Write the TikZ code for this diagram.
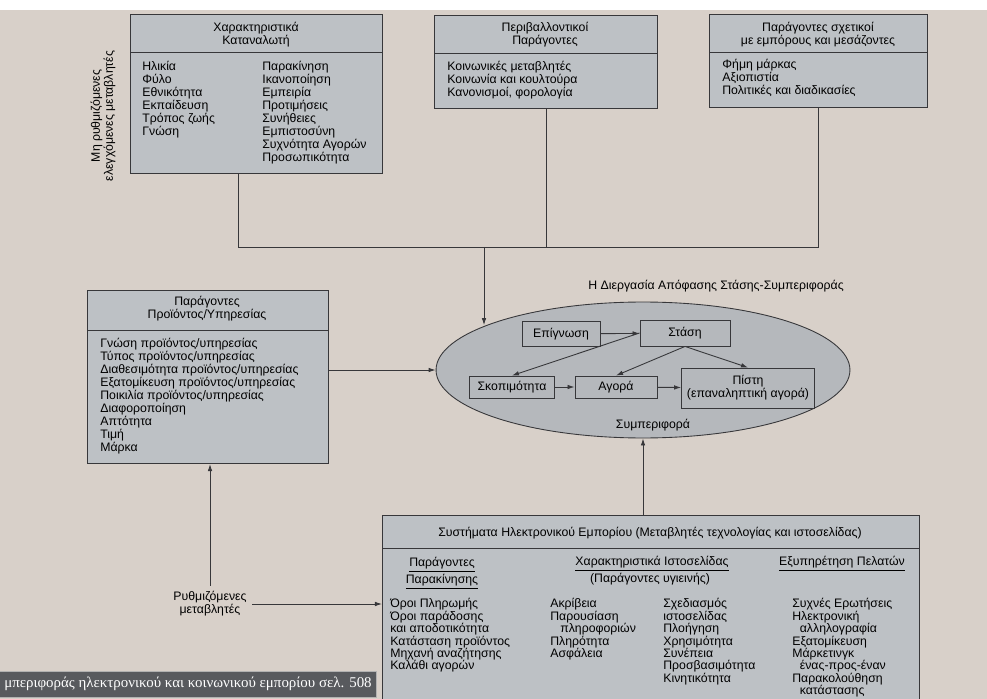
\documentclass[tikz,border=0pt]{standalone}
\usepackage{fontspec}
\setmainfont{Liberation Sans}
\newfontfamily\capfont{Liberation Serif}
\usepackage{tikz}
\usetikzlibrary{arrows.meta, shapes.geometric, positioning, calc}
\definecolor{pagebg}    {RGB}{216, 208, 201}
\definecolor{panelgray} {RGB}{189, 193, 197}
\definecolor{ovalgray}  {RGB}{181, 184, 188}
\definecolor{inkdark}   {RGB}{ 55,  55,  58}
\definecolor{capgray}   {RGB}{ 88,  90,  94}

\newcommand{\boxfont}{\fontsize{7}{7.4}\selectfont}
\newcommand{\listfont}{\fontsize{7}{7.1}\selectfont}

\tikzset{
	panel/.style={draw=inkdark, fill=panelgray, line width=0.6pt, inner sep=0pt, anchor=north west},
	headtxt/.style={align=center, font=\boxfont, inner sep=0pt},
	itemtxt/.style={align=left, font=\boxfont, inner sep=0pt, anchor=north west},
	listtxt/.style={align=left, font=\listfont, inner sep=0pt, anchor=north west},
	stagebox/.style={draw=inkdark, fill=ovalgray, line width=0.5pt, font=\boxfont, align=center, inner sep=0pt},
	link/.style={draw=inkdark, line width=0.5pt},
	flow/.style={draw=inkdark, line width=0.5pt, -{Latex[length=4pt,width=2.6pt]}}
}

\begin{document}
\begin{tikzpicture}[x=0.02cm, y=-0.02cm]
	\clip (0,0) rectangle (987,699);
	\fill[pagebg] (0,0) rectangle (987,699);
	\fill[white] (0,0) rectangle (987,10);

	% top row of factors
	\node[panel, minimum width=5.04cm, minimum height=3.18cm] (cons) at (130,14) {};
	\draw[link] ([yshift=-0.76cm]cons.north west) -- ([yshift=-0.76cm]cons.north east);
	\node[headtxt] (consh) at (256,35) {Χαρακτηριστικά\\Καταναλωτή};
	\node[itemtxt] (consa) at (142,61) {Ηλικία\\Φύλο\\Εθνικότητα\\Εκπαίδευση\\Τρόπος ζωής\\Γνώση};
	\node[itemtxt] (consb) at (262,61) {Παρακίνηση\\Ικανοποίηση\\Εμπειρία\\Προτιμήσεις\\Συνήθειες\\Εμπιστοσύνη\\Συχνότητα Αγορών\\Προσωπικότητα};
	\node[font=\boxfont, rotate=90, align=center, inner sep=0pt] (fixedvar) at (103,116) {Μη ρυθμιζόμενες\\ελεγχόμενες μεταβλητές};

	\node[panel, minimum width=4.46cm, minimum height=1.86cm] (env) at (434,15) {};
	\draw[link] ([yshift=-0.76cm]env.north west) -- ([yshift=-0.76cm]env.north east);
	\node[headtxt] (envh) at (545,35) {Περιβαλλοντικοί\\Παράγοντες};
	\node[itemtxt] (enva) at (447,61) {Κοινωνικές μεταβλητές\\Κοινωνία και κουλτούρα\\Κανονισμοί, φορολογία};

	\node[panel, minimum width=4.36cm, minimum height=1.86cm] (trade) at (709,14) {};
	\draw[link] ([yshift=-0.76cm]trade.north west) -- ([yshift=-0.76cm]trade.north east);
	\node[headtxt] (tradeh) at (818,35) {Παράγοντες σχετικοί\\με εμπόρους και μεσάζοντες};
	\node[itemtxt] (tradea) at (722,59) {Φήμη μάρκας\\Αξιοπιστία\\Πολιτικές και διαδικασίες};

	% joining lines
	\coordinate (jl) at (238,247);
	\coordinate (jm) at (484,247);
	\draw[link] (cons.south -| jl) -- (jl) -- (jl -| trade.south) -- (trade.south);
	\draw[link] (env.south) -- (env.south |- jl);

	% product box
	\node[panel, minimum width=4.82cm, minimum height=3.46cm] (prod) at (87,290) {};
	\draw[link] ([yshift=-0.8cm]prod.north west) -- ([yshift=-0.8cm]prod.north east);
	\node[headtxt] (prodh) at (207,309) {Παράγοντες\\Προϊόντος/Υπηρεσίας};
	\node[itemtxt] (proda) at (100,338) {Γνώση προϊόντος/υπηρεσίας\\Τύπος προϊόντος/υπηρεσίας\\Διαθεσιμότητα προϊόντος/υπηρεσίας\\Εξατομίκευση προϊόντος/υπηρεσίας\\Ποικιλία προϊόντος/υπηρεσίας\\Διαφοροποίηση\\Απτότητα\\Τιμή\\Μάρκα};

	% decision process
	\node[ellipse, draw=inkdark, fill=ovalgray, line width=0.5pt, minimum width=8.28cm, minimum height=2.72cm] (proc) at (643,370) {};
	\node[font=\boxfont] (proct) at (716,286) {Η Διεργασία Απόφασης Στάσης-Συμπεριφοράς};
	\node[font=\boxfont] (beh) at (653,425) {Συμπεριφορά};

	\node[stagebox, minimum width=1.56cm, minimum height=0.5cm] (aware) at (561,334) {Επίγνωση};
	\node[stagebox, minimum width=1.8cm, minimum height=0.52cm] (att) at (685,333) {Στάση};
	\node[stagebox, minimum width=1.7cm, minimum height=0.44cm] (purp) at (512,387) {Σκοπιμότητα};
	\node[stagebox, minimum width=1.64cm, minimum height=0.44cm] (buy) at (616,387) {Αγορά};
	\node[stagebox, minimum width=2.66cm, minimum height=0.8cm] (loyal) at (748,388) {Πίστη\\(επαναληπτική αγορά)};

	\draw[flow] (aware) -- (att);
	\draw[flow] (att.west) -- (purp.north);
	\draw[flow] (att.south) -- (buy.north);
	\draw[flow] (att.south) -- (loyal.north);
	\draw[flow] (purp) -- (buy);
	\draw[flow] (buy) -- (loyal);

	\draw[flow] (jm) -- (jm |- proc.164);
	\draw[flow] (proc.west -| prod.east) -- (proc.west);

	% e-commerce systems
	\node[panel, minimum width=10.74cm, minimum height=4.2cm] (ecom) at (382,515) {};
	\draw[link] ([yshift=-0.66cm]ecom.north west) -- ([yshift=-0.66cm]ecom.north east);
	\node[headtxt] (ecomh) at (650,533) {Συστήματα Ηλεκτρονικού Εμπορίου (Μεταβλητές τεχνολογίας και ιστοσελίδας)};
	\node[headtxt] (motivh) at (442,573) {\underline{Παράγοντες}\\\underline{Παρακίνησης}};
	\node[headtxt] (siteh) at (652,564) {\underline{Χαρακτηριστικά Ιστοσελίδας}};
	\node[headtxt] (hyg) at (650,579) {(Παράγοντες υγιεινής)};
	\node[headtxt] (servh) at (842,564) {\underline{Εξυπηρέτηση Πελατών}};
	\node[listtxt] (motiva) at (390,598) {Όροι Πληρωμής\\Όροι παράδοσης\\και αποδοτικότητα\\Κατάσταση προϊόντος\\Μηχανή αναζήτησης\\Καλάθι αγορών};
	\node[listtxt] (sitea) at (550,598) {Ακρίβεια\\Παρουσίαση\\\hspace*{0.2cm}πληροφοριών\\Πληρότητα\\Ασφάλεια};
	\node[listtxt] (siteb) at (663,598) {Σχεδιασμός\\ιστοσελίδας\\Πλοήγηση\\Χρησιμότητα\\Συνέπεια\\Προσβασιμότητα\\Κινητικότητα};
	\node[listtxt] (serva) at (792,598) {Συχνές Ερωτήσεις\\Ηλεκτρονική\\\hspace*{0.15cm}αλληλογραφία\\Εξατομίκευση\\Μάρκετινγκ\\\hspace*{0.15cm}ένας-προς-έναν\\Παρακολούθηση\\\hspace*{0.15cm}κατάστασης};

	\draw[flow] (ecom.north -| proc.south) -- (proc.south);

	% controllable variables
	\node[headtxt, inner sep=3pt] (reg) at (210,604) {Ρυθμιζόμενες\\μεταβλητές};
	\draw[flow] (reg.north) -- (reg.north |- prod.south);
	\draw[flow] (reg.east) -- (reg.east -| ecom.west);

	% caption strip
	\node[fill=capgray, draw=gray!60, text=white, font=\capfont\fontsize{8.5}{9}\selectfont, minimum width=7.54cm, minimum height=0.52cm, inner sep=0pt] (caption) at (188,684) {μπεριφοράς ηλεκτρονικού και κοινωνικού εμπορίου σελ. 508};
\end{tikzpicture}
\end{document}
